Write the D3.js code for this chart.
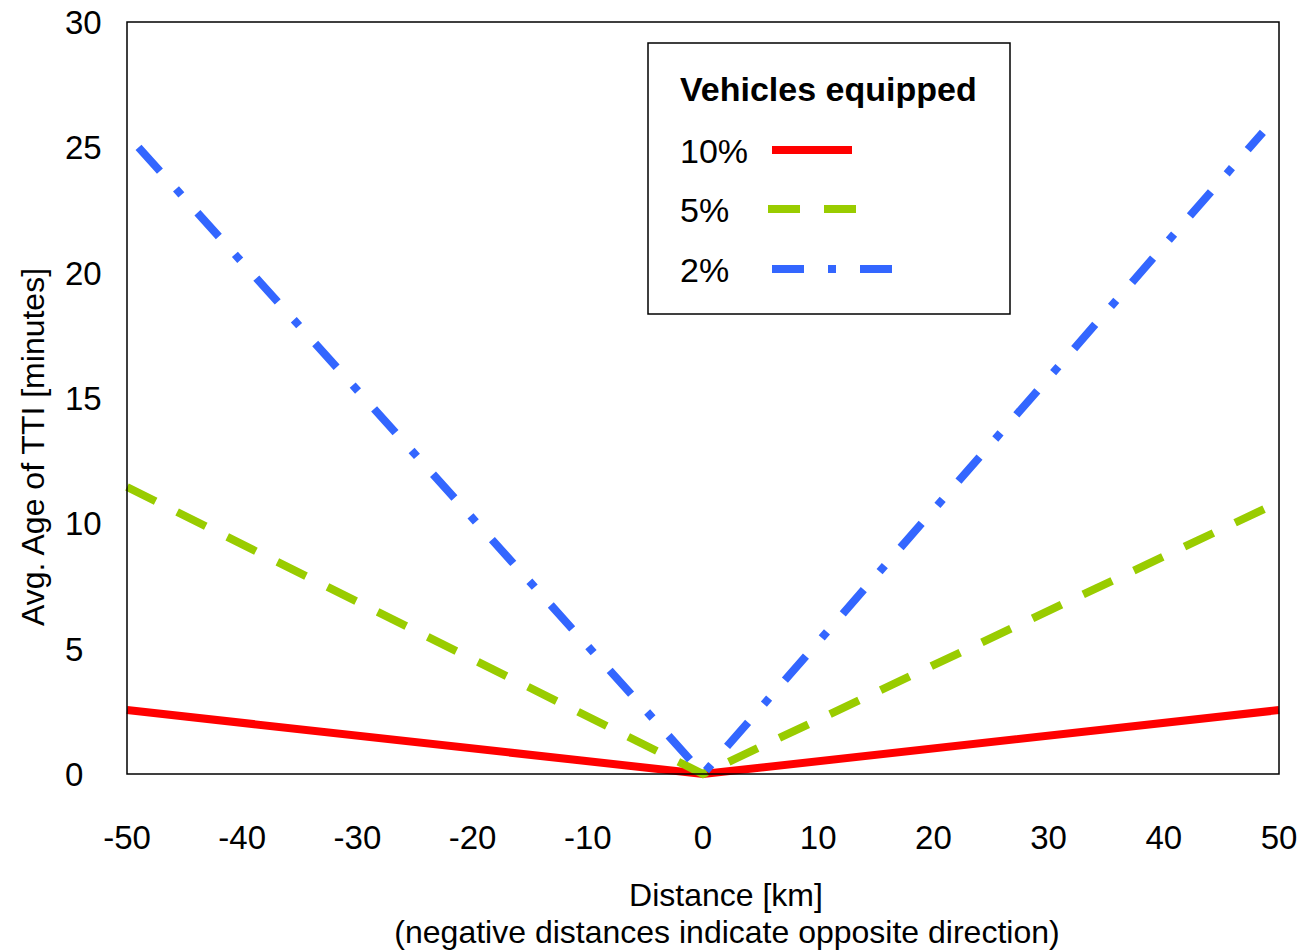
<!DOCTYPE html>
<html>
<head>
<meta charset="utf-8">
<script src="https://cdn.jsdelivr.net/npm/d3@7"></script>
<style>
  body { margin: 0; background: #fff; }
  text { font-family: "Liberation Sans", Arial, sans-serif; fill: #000; }
</style>
</head>
<body>
<svg id="chart" width="1300" height="952"></svg>
<script>
// données
var xTicks = [-50, -40, -30, -20, -10, 0, 10, 20, 30, 40, 50];
var yTicks = [0, 5, 10, 15, 20, 25, 30];

var dist10 = [-50, 0, 50];
var age10 = [2.55, 0, 2.55];

var dist5 = [-50, 0, 50];
var age5 = [11.45, 0, 10.85];

var dist2 = [-49, 0, 48.6];
var age2 = [25.0, 0, 25.6];

var seriesNames = ["10%", "5%", "2%"];
var seriesColors = ["#ff0000", "#99cc00", "#3366ff"];
var seriesDash = [null, "32,24", "32,24,8,24"];

// zone du graphique (attention: "top" est réservé par window)
var plotLeft = 127, plotRight = 1279, plotTop = 22, plotBottom = 774;

var svg = d3.select("#chart");

var x = d3.scaleLinear().domain([-50, 50]).range([plotLeft, plotRight]);
var y = d3.scaleLinear().domain([0, 30]).range([plotBottom, plotTop]);

// étiquettes axe Y (alignées à gauche comme dans l'original)
svg.append("g").selectAll("text")
    .data(yTicks)
    .enter().append("text")
    .attr("x", 65)
    .attr("y", d => y(d) + 12)
    .attr("text-anchor", "start")
    .style("font-size", "33px")
    .text(d => d);

// étiquettes axe X
svg.append("g").selectAll("text")
    .data(xTicks)
    .enter().append("text")
    .attr("x", d => x(d))
    .attr("y", 849)
    .attr("text-anchor", "middle")
    .style("font-size", "33px")
    .text(d => d);

// titres des axes
svg.append("text")
    .attr("x", 726).attr("y", 906)
    .attr("text-anchor", "middle")
    .style("font-size", "32px")
    .text("Distance [km]");
svg.append("text")
    .attr("x", 727).attr("y", 943)
    .attr("text-anchor", "middle")
    .style("font-size", "32px")
    .text("(negative distances indicate opposite direction)");
svg.append("text")
    .attr("transform", "translate(44,447) rotate(-90)")
    .attr("text-anchor", "middle")
    .style("font-size", "32px")
    .text("Avg. Age of TTI [minutes]");

// courbes
var series = [
    {xs: dist10, ys: age10},
    {xs: dist5, ys: age5},
    {xs: dist2, ys: age2}
];

var line = d3.line()
    .x(d => x(d[0]))
    .y(d => y(d[1]));

svg.append("g").selectAll("path")
    .data(series)
    .enter().append("path")
    .attr("d", s => line(s.xs.map((v, i) => [v, s.ys[i]])))
    .attr("fill", "none")
    .attr("stroke", (s, i) => seriesColors[i])
    .attr("stroke-width", 8)
    .attr("stroke-linecap", "butt")
    .attr("stroke-linejoin", "miter")
    .attr("stroke-dasharray", (s, i) => seriesDash[i]);

// cadre
svg.append("rect")
    .attr("x", plotLeft).attr("y", plotTop)
    .attr("width", plotRight - plotLeft).attr("height", plotBottom - plotTop)
    .attr("fill", "none")
    .attr("stroke", "#000")
    .attr("stroke-width", 1.5);

// légende
var legend = svg.append("g");
legend.append("rect")
    .attr("x", 648).attr("y", 43)
    .attr("width", 362).attr("height", 271)
    .attr("fill", "#fff")
    .attr("stroke", "#000")
    .attr("stroke-width", 1.5);
legend.append("text")
    .attr("x", 680).attr("y", 101)
    .style("font-size", "34px")
    .style("font-weight", "bold")
    .text("Vehicles equipped");

var legendY = [150, 209, 269];
var legendLen = [80, 88, 120];
var legendX0 = [772, 768, 772];

seriesNames.forEach(function(name, i) {
    legend.append("text")
        .attr("x", 680).attr("y", legendY[i] + 13)
        .style("font-size", "34px")
        .text(name);
    legend.append("line")
        .attr("x1", legendX0[i]).attr("x2", legendX0[i] + legendLen[i])
        .attr("y1", legendY[i]).attr("y2", legendY[i])
        .attr("stroke", seriesColors[i])
        .attr("stroke-width", 8)
        .attr("stroke-dasharray", seriesDash[i]);
});
</script>
</body>
</html>
